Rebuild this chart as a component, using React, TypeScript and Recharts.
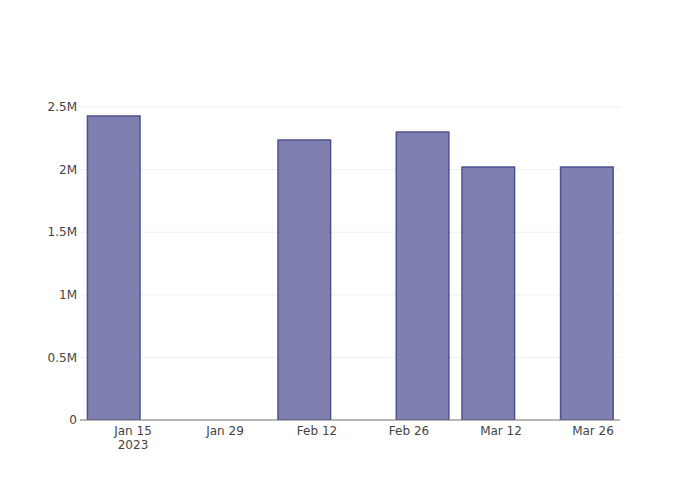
import { BarChart, Bar, XAxis, YAxis, CartesianGrid, ReferenceLine } from "recharts";

const DAY = 24 * 3600 * 1000;
const base = Date.UTC(2023, 0, 15);

// bar dates and values
const dates = ["2023-01-12", "2023-02-10", "2023-02-28", "2023-03-10", "2023-03-25"];
const values = [2428000, 2236000, 2300000, 2021000, 2021000];

const xTickDates = ["2023-01-15", "2023-01-29", "2023-02-12", "2023-02-26", "2023-03-12", "2023-03-26"];
const xTickLabels = ["Jan 15", "Jan 29", "Feb 12", "Feb 26", "Mar 12", "Mar 26"];
const yTicks = [0, 500000, 1000000, 1500000, 2000000, 2500000];

const toTs = (d: string) => Date.parse(d + "T00:00:00Z");

const data = dates.map((d, i) => ({ t: toTs(d), value: values[i] }));
const xTicks = xTickDates.map(toTs);

const FONT = '"DejaVu Sans", verdana, sans-serif';

const yFormat = (v: number) => (v === 0 ? "0" : `${v / 1e6}M`);

function DateTick(props: any) {
  const { x, y, payload } = props;
  const i = xTicks.indexOf(payload.value);
  return (
    <g transform={`translate(${x},${y})`}>
      <text textAnchor="middle" fill="#444" fontSize={12} fontFamily={FONT} y={7}>
        {xTickLabels[i]}
      </text>
      {i === 0 && (
        <text textAnchor="middle" fill="#444" fontSize={12} fontFamily={FONT} y={21}>
          2023
        </text>
      )}
    </g>
  );
}

export default function App() {
  return (
    <div style={{ position: "absolute", left: 0, top: 0, width: 700, height: 500, background: "#fff" }}>
      <BarChart
        width={700}
        height={500}
        data={data}
        margin={{ top: 100, right: 80, bottom: 50, left: 20 }}
      >
        <CartesianGrid vertical={false} stroke="#eee" horizontalValues={yTicks} />
        <XAxis
          dataKey="t"
          type="number"
          scale="linear"
          domain={[base - 8.065 * DAY, base + 74.11 * DAY]}
          ticks={xTicks}
          tick={<DateTick />}
          tickLine={false}
          axisLine={false}
          height={30}
          allowDataOverflow
          interval={0}
        />
        <YAxis
          domain={[0, 2556000]}
          ticks={yTicks}
          tickFormatter={yFormat}
          tick={{ fontSize: 12, fill: "#444", fontFamily: FONT }}
          tickLine={false}
          axisLine={false}
          tickSize={0}
          tickMargin={3}
          width={60}
          allowDataOverflow
        />
        <Bar
          dataKey="value"
          fill="#8080b0"
          stroke="#50508f"
          strokeWidth={1.5}
          barSize={52.6}
          isAnimationActive={false}
        />
        <ReferenceLine y={0} stroke="#777" strokeWidth={1} />
      </BarChart>
    </div>
  );
}
